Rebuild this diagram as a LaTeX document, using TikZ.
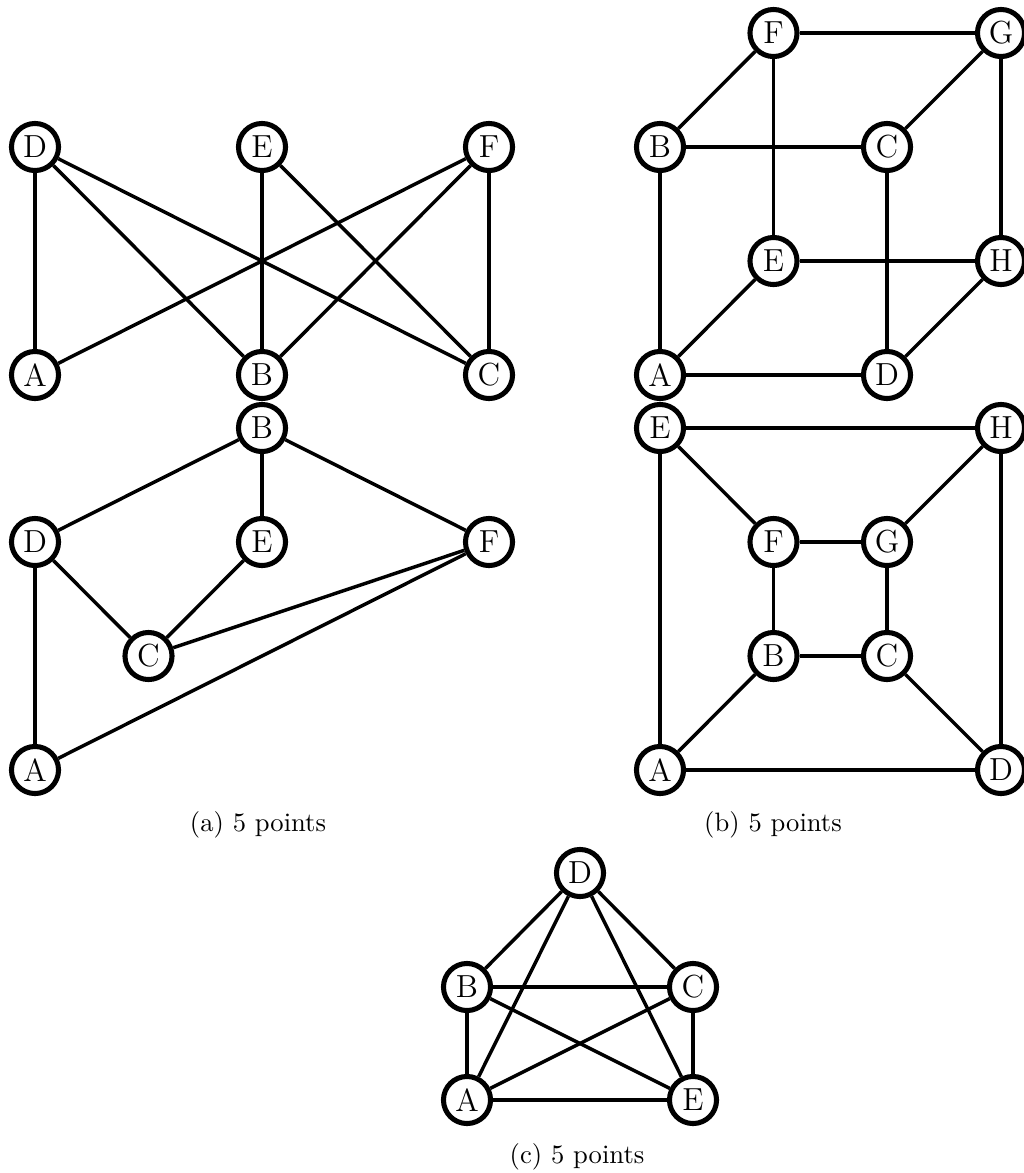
\documentclass[tikz,border=0pt]{standalone}
\begin{document}
\begin{tikzpicture}[x=0.376pt,y=-0.376pt,
  vertex/.style={circle,draw,line width=1.9pt,minimum size=17.7pt,inner sep=0pt,fill=white,font=\large},
  edge/.style={line width=1.3pt},
  caption/.style={inner sep=0pt,font=\normalsize}]
\useasboundingbox (0,0) rectangle (1024,1173);
% (a) top
\node[vertex] (aD) at (35,147) {D};
\node[vertex] (aE) at (262,147) {E};
\node[vertex] (aF) at (489,147) {F};
\node[vertex] (aA) at (35,375) {A};
\node[vertex] (aB) at (262,375) {B};
\node[vertex] (aC) at (489,375) {C};
\draw[edge] (aD) -- (aA);
\draw[edge] (aD) -- (aB);
\draw[edge] (aD) -- (aC);
\draw[edge] (aE) -- (aB);
\draw[edge] (aE) -- (aC);
\draw[edge] (aF) -- (aA);
\draw[edge] (aF) -- (aB);
\draw[edge] (aF) -- (aC);
% (a) bottom
\node[vertex] (bB) at (262,428) {B};
\node[vertex] (bD) at (35,542) {D};
\node[vertex] (bE) at (262,542) {E};
\node[vertex] (bF) at (489,542) {F};
\node[vertex] (bC) at (148.5,656) {C};
\node[vertex] (bA) at (35,770) {A};
\draw[edge] (bB) -- (bD);
\draw[edge] (bB) -- (bE);
\draw[edge] (bB) -- (bF);
\draw[edge] (bD) -- (bA);
\draw[edge] (bD) -- (bC);
\draw[edge] (bE) -- (bC);
\draw[edge] (bC) -- (bF);
\draw[edge] (bA) -- (bF);
% (b) top cube
\node[vertex] (cF) at (773.5,33) {F};
\node[vertex] (cG) at (1001,33) {G};
\node[vertex] (cB) at (660,147) {B};
\node[vertex] (cC) at (887,147) {C};
\node[vertex] (cE) at (773.5,261) {E};
\node[vertex] (cH) at (1001,261) {H};
\node[vertex] (cA) at (660,375) {A};
\node[vertex] (cD) at (887,375) {D};
\draw[edge] (cF) -- (cG);
\draw[edge] (cF) -- (cB);
\draw[edge] (cF) -- (cE);
\draw[edge] (cG) -- (cC);
\draw[edge] (cG) -- (cH);
\draw[edge] (cB) -- (cC);
\draw[edge] (cB) -- (cA);
\draw[edge] (cC) -- (cD);
\draw[edge] (cE) -- (cH);
\draw[edge] (cE) -- (cA);
\draw[edge] (cH) -- (cD);
\draw[edge] (cA) -- (cD);
% (b) bottom
\node[vertex] (dE) at (660,428) {E};
\node[vertex] (dH) at (1001,428) {H};
\node[vertex] (dF) at (773.5,542) {F};
\node[vertex] (dG) at (887,542) {G};
\node[vertex] (dB) at (773.5,656) {B};
\node[vertex] (dC) at (887,656) {C};
\node[vertex] (dA) at (660,770) {A};
\node[vertex] (dD) at (1001,770) {D};
\draw[edge] (dE) -- (dH);
\draw[edge] (dE) -- (dF);
\draw[edge] (dE) -- (dA);
\draw[edge] (dH) -- (dG);
\draw[edge] (dH) -- (dD);
\draw[edge] (dF) -- (dG);
\draw[edge] (dF) -- (dB);
\draw[edge] (dG) -- (dC);
\draw[edge] (dB) -- (dC);
\draw[edge] (dB) -- (dA);
\draw[edge] (dC) -- (dD);
\draw[edge] (dA) -- (dD);
% (c)
\node[vertex] (eD) at (580,873) {D};
\node[vertex] (eB) at (467,987) {B};
\node[vertex] (eC) at (693,987) {C};
\node[vertex] (eA) at (467,1100) {A};
\node[vertex] (eE) at (693,1100) {E};
\draw[edge] (eD) -- (eB);
\draw[edge] (eD) -- (eC);
\draw[edge] (eD) -- (eA);
\draw[edge] (eD) -- (eE);
\draw[edge] (eB) -- (eC);
\draw[edge] (eB) -- (eA);
\draw[edge] (eB) -- (eE);
\draw[edge] (eC) -- (eA);
\draw[edge] (eC) -- (eE);
\draw[edge] (eA) -- (eE);
% captions
\node[caption] (capa) at (258,825) {(a) 5 points};
\node[caption] (capb) at (773,825) {(b) 5 points};
\node[caption] (capc) at (577,1157) {(c) 5 points};
\end{tikzpicture}
\end{document}
